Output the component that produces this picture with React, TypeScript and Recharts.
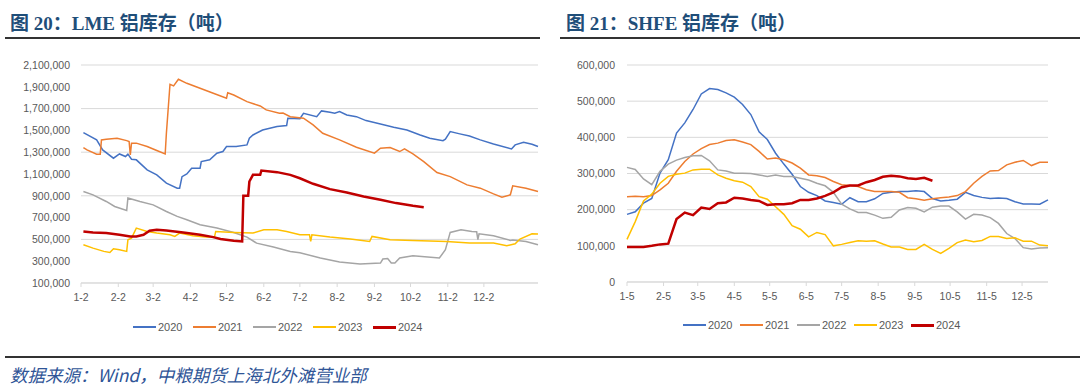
import { CartesianGrid, Line, LineChart, XAxis, YAxis } from "recharts";

// ---- data (thousand tonnes) ----
const years = ["2020", "2021", "2022", "2023", "2024"];
const yearColors = ["#4472C4", "#ED7D31", "#A5A5A5", "#FFC000", "#C00000"];

// LME: [day since 1-2, stock]
const lme2020 = [
  [2, 1480], [13, 1413], [18, 1321], [27, 1245], [32, 1284], [37, 1260], [39, 1282], [42, 1236],
  [46, 1230], [55, 1138], [63, 1092], [71, 1016], [80, 970], [82, 970], [84, 1076], [88, 1101],
  [92, 1153], [99, 1153], [100, 1214], [107, 1230], [113, 1291], [118, 1306], [121, 1352], [129, 1352],
  [138, 1367], [140, 1428], [143, 1458], [151, 1504], [163, 1535], [171, 1545], [172, 1612], [182, 1608],
  [185, 1657], [196, 1626], [200, 1679], [207, 1667], [211, 1657], [215, 1672], [221, 1642], [229, 1626],
  [237, 1590], [249, 1559], [260, 1529], [271, 1504], [282, 1458], [290, 1428], [301, 1406], [303, 1420],
  [307, 1489], [315, 1468], [323, 1449], [332, 1413], [343, 1376], [358, 1330], [361, 1367], [368, 1392],
  [375, 1373], [380, 1352],
];
const lme2021 = [
  [2, 1342], [5, 1321], [13, 1282], [16, 1282], [17, 1413], [21, 1419], [30, 1428], [38, 1406],
  [40, 1398], [41, 1275], [42, 1383], [46, 1383], [55, 1352], [63, 1315], [70, 1284], [71, 1474],
  [74, 1923], [77, 1908], [81, 1969], [88, 1932], [99, 1886], [110, 1841], [121, 1795], [122, 1846],
  [127, 1825], [138, 1764], [149, 1724], [154, 1688], [165, 1657], [168, 1660], [174, 1626], [185, 1612],
  [193, 1550], [201, 1474], [215, 1413], [229, 1346], [244, 1291], [249, 1337], [257, 1342], [265, 1306],
  [269, 1330], [276, 1284], [285, 1214], [296, 1113], [307, 1076], [321, 1000], [332, 970], [343, 918],
  [350, 888], [357, 909], [359, 991], [370, 970], [380, 939],
];
const lme2022 = [
  [2, 939], [10, 909], [21, 848], [28, 802], [38, 766], [39, 879], [49, 848], [60, 817],
  [71, 756], [80, 711], [88, 680], [99, 634], [113, 604], [127, 564], [138, 521], [146, 466],
  [160, 430], [174, 390], [182, 378], [199, 329], [215, 292], [232, 274], [249, 283], [251, 320],
  [255, 325], [258, 283], [261, 283], [265, 329], [276, 350], [298, 329], [303, 405], [307, 564],
  [316, 588], [325, 573], [329, 570], [330, 497], [331, 552], [343, 533], [357, 491], [359, 495],
  [370, 481], [380, 451],
];
const lme2023 = [
  [2, 451], [10, 420], [19, 390], [24, 380], [27, 414], [32, 405], [38, 390], [39, 497],
  [42, 512], [46, 604], [55, 573], [63, 558], [74, 542], [78, 527], [82, 558], [93, 533],
  [104, 521], [111, 521], [112, 573], [127, 564], [143, 558], [152, 588], [163, 588], [171, 573],
  [182, 542], [190, 542], [191, 481], [192, 542], [207, 521], [224, 503], [240, 481], [242, 527],
  [257, 497], [276, 491], [304, 481], [323, 466], [343, 466], [354, 442], [361, 460], [365, 503],
  [375, 552], [380, 549],
];
const lme2024 = [
  [2, 573], [10, 564], [21, 558], [32, 542], [41, 527], [46, 527], [52, 542], [57, 579],
  [63, 588], [71, 582], [85, 564], [99, 542], [110, 521], [116, 503], [127, 488], [134, 481],
  [135, 900], [139, 900], [140, 1031], [143, 1092], [149, 1092], [150, 1132], [163, 1117], [174, 1092],
  [182, 1061], [193, 1010], [207, 961], [221, 930], [235, 894], [249, 863], [262, 833], [276, 808],
  [285, 796],
];

// SHFE: weekly, first week = 1-5
const shfe2020 = [
  187, 194, 218, 231, 301, 338, 412, 440, 477, 520, 535, 532, 523, 511, 491, 463, 415, 394, 356, 326,
  298, 264, 248, 239, 224, 220, 215, 233, 222, 222, 230, 245, 248, 250, 250, 252, 250, 231, 224, 226,
  229, 248, 239, 234, 231, 232, 231, 222, 216, 216, 215, 227,
];
const shfe2021 = [
  236, 237, 236, 239, 255, 273, 306, 333, 354, 369, 380, 384, 391, 393, 387, 380, 361, 340, 343, 338,
  329, 315, 296, 294, 289, 278, 269, 267, 264, 255, 250, 250, 250, 248, 233, 230, 226, 230, 233, 235,
  239, 250, 273, 292, 307, 308, 324, 331, 336, 322, 331, 331,
];
const shfe2022 = [
  317, 311, 285, 269, 306, 326, 337, 344, 349, 350, 335, 310, 307, 301, 301, 300, 296, 292, 296, 292,
  292, 287, 282, 273, 266, 248, 215, 202, 192, 192, 185, 176, 179, 199, 206, 204, 194, 207, 210, 210,
  194, 174, 187, 185, 178, 162, 134, 120, 95, 91, 94, 95,
];
const shfe2023 = [
  118, 167, 224, 243, 273, 292, 298, 301, 310, 312, 312, 296, 287, 280, 276, 264, 236, 229, 208, 187,
  156, 146, 125, 137, 131, 100, 104, 109, 114, 113, 114, 105, 97, 97, 90, 90, 104, 90, 79, 93,
  109, 116, 111, 115, 126, 126, 120, 122, 113, 113, 102, 100,
];
const shfe2024 = [
  97, 97, 97, 100, 104, 106, 174, 192, 185, 206, 202, 218, 220, 233, 231, 227, 224, 213, 215, 215,
  218, 227, 227, 231, 238, 248, 262, 267, 267, 276, 282, 291, 294, 292, 287, 285, 288, 280,
];

const monthTicks = [0, 31, 60, 91, 121, 152, 182, 213, 244, 274, 305, 335];
const lmeTickLabels = ["1-2", "2-2", "3-2", "4-2", "5-2", "6-2", "7-2", "8-2", "9-2", "10-2", "11-2", "12-2"];
const shfeTickLabels = ["1-5", "2-5", "3-5", "4-5", "5-5", "6-5", "7-5", "8-5", "9-5", "10-5", "11-5", "12-5"];
const lmeYTicks = [100000, 300000, 500000, 700000, 900000, 1100000, 1300000, 1500000, 1700000, 1900000, 2100000];
const shfeYTicks = [0, 100000, 200000, 300000, 400000, 500000, 600000];

const lmeSeries = [lme2020, lme2021, lme2022, lme2023, lme2024].map((s) =>
  s.map(([x, v]) => ({ x, v: v * 1000 }))
);
const shfeSeries = [shfe2020, shfe2021, shfe2022, shfe2023, shfe2024].map((s) =>
  s.map((v, i) => ({ x: i * 7, v: v * 1000 }))
);

const tickFont = { fill: "#595959", fontSize: 10.5, fontFamily: "'Liberation Sans', Arial, sans-serif" };
const titleStyle: React.CSSProperties = {
  position: "absolute",
  top: 8,
  fontFamily: "'Liberation Serif', 'Noto Sans CJK SC', serif",
  fontWeight: 700,
  fontSize: 19,
  color: "#1F4E79",
  whiteSpace: "nowrap",
};
const fmt = (v: number) => v.toLocaleString("en-US");

function Legend({ left, top, gap }: { left: number; top: number; gap: number }) {
  return (
    <div style={{ position: "absolute", left, top, display: "flex", fontFamily: "'Liberation Sans', Arial, sans-serif", fontSize: 11, color: "#595959" }}>
      {years.map((y, i) => (
        <div key={y} style={{ display: "flex", alignItems: "center", width: gap }}>
          <span style={{ display: "inline-block", width: 23, height: i === 4 ? 3 : 2, background: yearColors[i], marginRight: 2 }} />
          <span>{y}</span>
        </div>
      ))}
    </div>
  );
}

export default function App() {
  return (
    <div style={{ position: "absolute", left: 0, top: 0, width: 1080, height: 389, background: "#fff", overflow: "hidden" }}>
      <div style={{ ...titleStyle, left: 10 }}>图 20：LME 铝库存（吨）</div>
      <div style={{ ...titleStyle, left: 566 }}>图 21：SHFE 铝库存（吨）</div>
      <div style={{ position: "absolute", left: 5, top: 37, width: 535, height: 2, background: "#333" }} />
      <div style={{ position: "absolute", left: 560, top: 37, width: 520, height: 2, background: "#333" }} />

      <div style={{ position: "absolute", left: 0, top: 0 }}>
        <LineChart width={545} height={313} margin={{ top: 65, right: 7, left: 6, bottom: 0 }}>
          <CartesianGrid vertical={false} stroke="#D9D9D9" />
          <XAxis
            type="number"
            dataKey="x"
            domain={[0, 380]}
            ticks={monthTicks}
            tickFormatter={(v: number) => lmeTickLabels[monthTicks.indexOf(v)]}
            tick={tickFont}
            tickSize={4}
            tickMargin={7}
            height={30}
            stroke="#D9D9D9"
            allowDuplicatedCategory={false}
          />
          <YAxis
            type="number"
            domain={[100000, 2100000]}
            ticks={lmeYTicks}
            tickFormatter={fmt}
            tick={tickFont}
            axisLine={false}
            tickLine={false}
            tickMargin={5}
            width={75}
          />
          {lmeSeries.map((d, i) => (
            <Line
              key={years[i]}
              data={d}
              dataKey="v"
              name={years[i]}
              type="linear"
              stroke={yearColors[i]}
              strokeWidth={i === 4 ? 2.5 : 1.5}
              dot={false}
              isAnimationActive={false}
            />
          ))}
        </LineChart>
      </div>

      <div style={{ position: "absolute", left: 545, top: 0 }}>
        <LineChart width={535} height={312} margin={{ top: 65, right: 32, left: 7, bottom: 0 }}>
          <CartesianGrid vertical={false} stroke="#D9D9D9" />
          <XAxis
            type="number"
            dataKey="x"
            domain={[0, 357]}
            ticks={monthTicks}
            tickFormatter={(v: number) => shfeTickLabels[monthTicks.indexOf(v)]}
            tick={tickFont}
            tickSize={4}
            tickMargin={7}
            height={30}
            stroke="#D9D9D9"
            allowDuplicatedCategory={false}
          />
          <YAxis
            type="number"
            domain={[0, 600000]}
            ticks={shfeYTicks}
            tickFormatter={fmt}
            tick={tickFont}
            axisLine={false}
            tickLine={false}
            tickMargin={6}
            width={75}
          />
          {shfeSeries.map((d, i) => (
            <Line
              key={years[i]}
              data={d}
              dataKey="v"
              name={years[i]}
              type="linear"
              stroke={yearColors[i]}
              strokeWidth={i === 4 ? 2.5 : 1.5}
              dot={false}
              isAnimationActive={false}
            />
          ))}
        </LineChart>
      </div>

      <Legend left={133} top={321} gap={60} />
      <Legend left={683} top={319} gap={57} />

      <div style={{ position: "absolute", left: 5, top: 356, width: 1075, height: 2, background: "#333" }} />
      <div
        style={{
          position: "absolute",
          left: 10,
          top: 362,
          fontFamily: "'Noto Sans CJK SC', sans-serif",
          fontStyle: "italic",
          fontSize: 17.5,
          color: "#2F5597",
          whiteSpace: "nowrap",
        }}
      >
        数据来源：Wind，中粮期货上海北外滩营业部
      </div>
    </div>
  );
}
